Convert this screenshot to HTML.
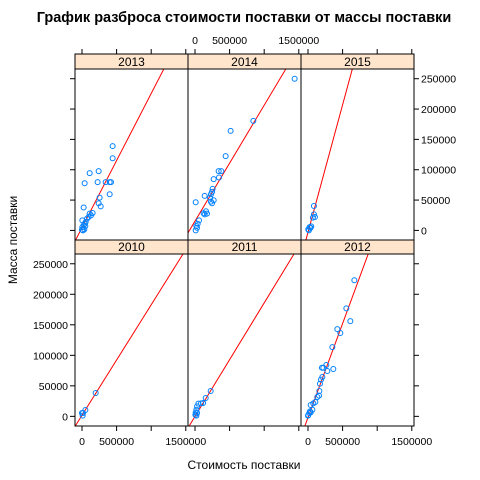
<!DOCTYPE html>
<html><head><meta charset="utf-8"><style>
body{margin:0;background:#fff;}
svg{display:block;font-family:"Liberation Sans","DejaVu Sans",sans-serif;}
</style></head><body>
<svg id="chart" width="480" height="480" viewBox="0 0 480 480">
<text x="244" y="22" text-anchor="middle" font-size="14.5" font-weight="bold">График разброса стоимости поставки от массы поставки</text>
<text x="244" y="469" text-anchor="middle" font-size="12">Стоимость поставки</text>
<text x="17" y="240" text-anchor="middle" font-size="12" transform="rotate(-90 17 240)">Масса поставки</text>
<g id="panels"></g>
</svg>
<script>
const panelYears = ["2013","2014","2015","2010","2011","2012"];
const xTicks = [0, 500000, 1000000, 1500000];
const xTickLabels = ["0", "500000", "", "1500000"];
const yTicks = [0, 50000, 100000, 150000, 200000, 250000];
const yTickLabels = ["0", "50000", "100000", "150000", "200000", "250000"];
const lineSlopes = [0.221, 0.191, 0.42, 0.181, 0.186, 0.308];
const lineIntercepts = [4600, 15300, -3100, 1800, -140, -1960];
const cost2013 = [443000,443000,241000,111000,38500,226000,342000,400000,419000,400000,255000,241000,270000,24000,154000,111000,130000,96000,72000,5000,53000,38500,24000,5000,48000,0,14000,34000];
const mass2013 = [139000,119000,97700,94400,77800,79500,79500,79500,79500,59600,54100,44700,39700,37700,28700,27600,24800,22100,19300,16600,13800,11000,8300,5500,7200,1100,0,1700];
const cost2014 = [1440000,843000,515000,443000,342000,380000,270000,347000,255000,246000,231000,140000,217000,270000,231000,246000,10000,125000,159000,140000,173000,58000,39000,19000,10000,29000];
const mass2014 = [250000,180500,164000,122500,97700,97700,84500,87200,68400,63500,59600,56900,54100,49700,47500,44700,46400,28200,31500,26500,27600,16600,11000,7200,0,4400];
const cost2015 = [86000,86000,100000,71000,47000,23000,4000,38000,13000];
const mass2015 = [40300,26500,22100,21000,6600,5500,1700,4400,0];
const cost2010 = [198000,49000,15000,0,10000];
const mass2010 = [38200,10400,5500,5500,1100];
const cost2011 = [227000,155000,117000,88000,49000,30000,20000,10000,6000,20000,30000];
const mass2011 = [41500,30000,21800,21300,20800,16400,10900,6600,2700,1100,5500];
const cost2012 = [670000,554000,612000,424000,467000,352000,366000,279000,265000,222000,202000,207000,188000,173000,164000,159000,135000,106000,77000,39000,63000,29000,5000,0,19000,39000];
const mass2012 = [223000,177000,156000,143000,136500,113500,77500,74300,84100,79700,79700,64400,60100,53500,41500,33900,31700,23500,21200,18600,10900,8200,2200,1100,5500,6600];
const costs = [cost2013,cost2014,cost2015,cost2010,cost2011,cost2012];
const masses = [mass2013,mass2014,mass2015,mass2010,mass2011,mass2012];

const NS="http://www.w3.org/2000/svg";
const g=document.getElementById('panels');
function mk(tag,attrs,parent){const e=document.createElementNS(NS,tag);for(const k in attrs)e.setAttribute(k,attrs[k]);(parent||g).appendChild(e);return e;}
const colX=[75,188,301], W=113;
const rows=[{stripTop:54,top:69,bottom:240},{stripTop:240,top:254,bottom:426}];
const xMin=-101000,xMax=1532000,yMin=-15800,yMax=266000;
for(let p=0;p<6;p++){
  const c=p%3,r=Math.floor(p/3),L=colX[c],R=L+W,T=rows[r].top,B=rows[r].bottom;
  const sx=v=>L+(v-xMin)/(xMax-xMin)*W;
  const sy=v=>B-(v-yMin)/(yMax-yMin)*(B-T);
  const pg=mk('g',{});
  
  
  const st=mk('rect',{x:L,y:rows[r].stripTop,width:W,height:T-rows[r].stripTop,fill:'#ffe5cc',stroke:'#000','stroke-width':1},pg);
  
  
  const stt=mk('text',{x:L+W/2,y:T-3,'text-anchor':'middle','font-size':12},pg);
  stt.textContent=panelYears[p];
  
  
  const cp='clip'+p;
  const cl=mk('clipPath',{id:cp},pg);mk('rect',{x:L,y:T,width:W,height:B-T},cl);
  const x0=xMin,x1=xMax;
  const ln=mk('line',{x1:sx(x0),y1:sy(lineIntercepts[p]+lineSlopes[p]*x0),x2:sx(x1),y2:sy(lineIntercepts[p]+lineSlopes[p]*x1),stroke:'#ff0000','stroke-width':1,'clip-path':'url(#'+cp+')'},pg);
  
  
  costs[p].forEach((v,i)=>{
    const pt=mk('circle',{cx:sx(v),cy:sy(masses[p][i]),r:2.5,fill:'none',stroke:'#0080ff','stroke-width':1},pg);
    
    
  });
  mk('rect',{x:L,y:T,width:W,height:B-T,fill:'none',stroke:'#000','stroke-width':1},pg);
  // x ticks
  xTicks.forEach((v,i)=>{
    const x=sx(v);
    if(r===0){mk('line',{x1:x,y1:rows[0].stripTop,x2:x,y2:rows[0].stripTop-5,stroke:'#000'},pg);
      if(c===1&&xTickLabels[i]){const t=mk('text',{x:x,y:44,'text-anchor':'middle','font-size':10.5},pg);t.textContent=xTickLabels[i];
        
        }}
    else{mk('line',{x1:x,y1:B,x2:x,y2:B+5,stroke:'#000'},pg);
      if(c!==1&&xTickLabels[i]){const t=mk('text',{x:x,y:445,'text-anchor':'middle','font-size':10.5},pg);t.textContent=xTickLabels[i];
        
        }}
  });
  // y ticks
  yTicks.forEach((v,i)=>{
    const y=sy(v);
    if(c===0){mk('line',{x1:L,y1:y,x2:L-5,y2:y,stroke:'#000'},pg);
      if(r===1){const t=mk('text',{x:L-7,y:y+4,'text-anchor':'end','font-size':10.5},pg);t.textContent=yTickLabels[i];
        
        }}
    if(c===2){mk('line',{x1:R,y1:y,x2:R+5,y2:y,stroke:'#000'},pg);
      if(r===0){const t=mk('text',{x:R+7,y:y+4,'text-anchor':'start','font-size':10.5},pg);t.textContent=yTickLabels[i];
        
        }}
  });
}
</script>
</body></html>
